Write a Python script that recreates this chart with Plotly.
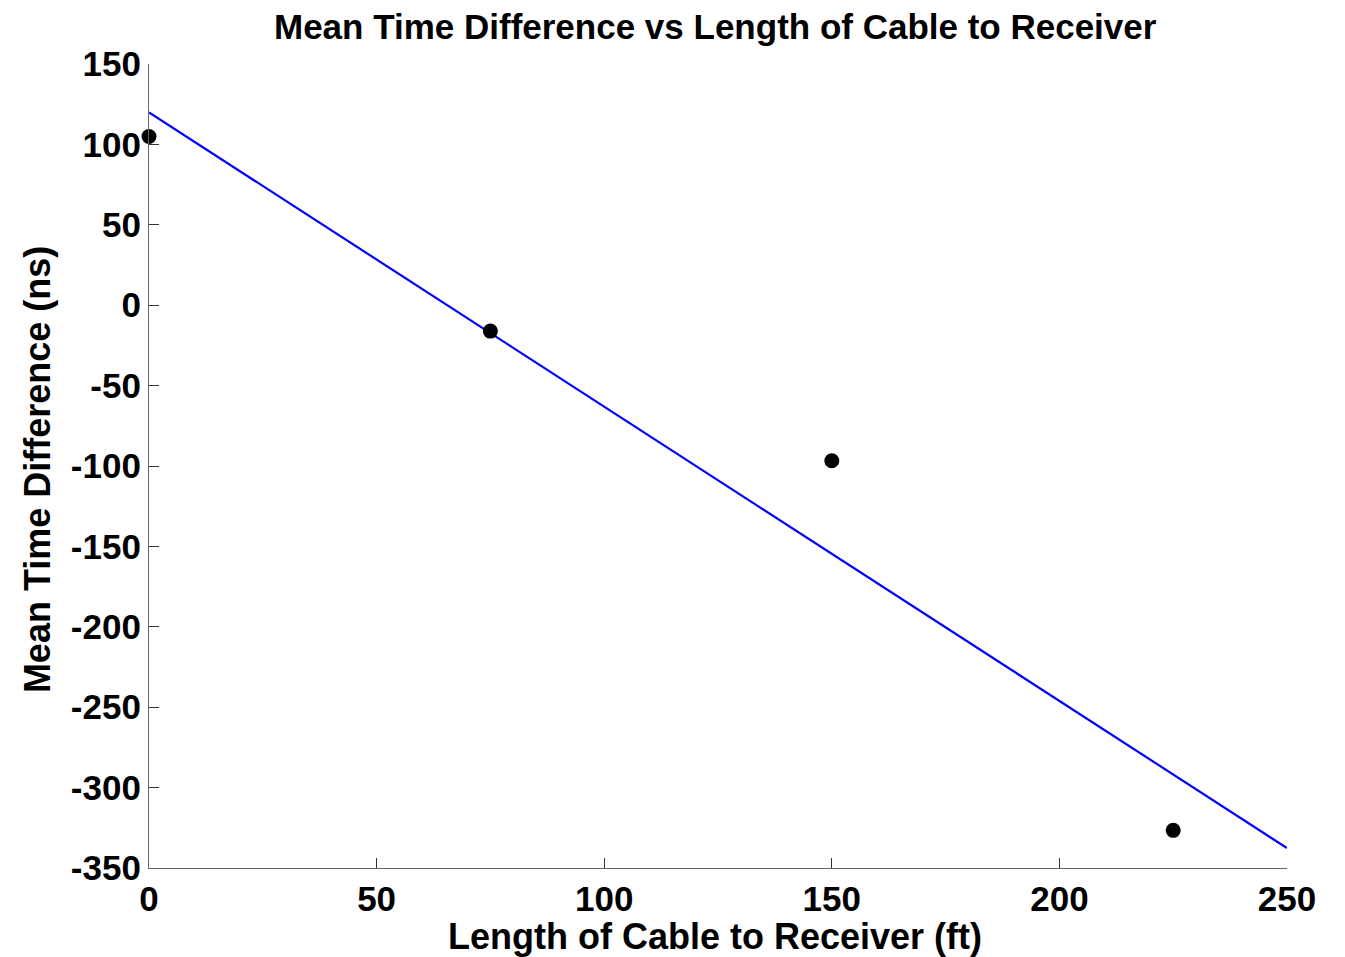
import plotly.graph_objects as go

cable_length_ft = [0, 75, 150, 225]
mean_time_diff_ns = [104.9, -16.1, -96.7, -326.6]

fit_x = [0, 250]
fit_y = [119.9, -337.6]

x_ticks = [0, 50, 100, 150, 200, 250]
y_ticks = [150, 100, 50, 0, -50, -100, -150, -200, -250, -300, -350]

FONT = "Liberation Sans, Arial"

fig = go.Figure()
fig.add_trace(go.Scatter(x=fit_x, y=fit_y, mode="lines",
                         line=dict(color="#0000ff", width=2.2), showlegend=False))
fig.add_trace(go.Scatter(x=cable_length_ft, y=mean_time_diff_ns, mode="markers",
                         marker=dict(color="black", size=15), showlegend=False,
                         cliponaxis=False))

axis_font = dict(family=FONT, size=35, color="black")
fig.update_layout(
    width=1337, height=949,
    paper_bgcolor="white", plot_bgcolor="white",
    margin=dict(l=141, r=58, t=56, b=89),
    xaxis=dict(range=[0, 250], tickvals=x_ticks, ticktext=[f"<b>{v}</b>" for v in x_ticks],
               showgrid=False, zeroline=False, showline=True, linecolor="#666", linewidth=1.2,
               ticks="inside", ticklen=10, tickcolor="#333", tickfont=axis_font),
    yaxis=dict(range=[-350, 150], tickvals=y_ticks, ticktext=[f"<b>{v}</b>" for v in y_ticks],
               showgrid=False, zeroline=False, showline=True, linecolor="#666", linewidth=1.2,
               ticks="inside", ticklen=10, tickcolor="#333", tickfont=axis_font),
    annotations=[
        dict(text="<b>Mean Time Difference vs Length of Cable to Receiver</b>",
             xref="paper", yref="paper", x=0.5, y=1.0, xanchor="center", yanchor="middle",
             xshift=715.5 - 8 - (141 + 1138 / 2), yshift=56 - 18,
             showarrow=False, font=dict(family=FONT, size=35, color="black")),
        dict(text="<b>Length of Cable to Receiver (ft)</b>",
             xref="paper", yref="paper", x=0.497, y=-0.0846, xanchor="center", yanchor="middle",
             showarrow=False, font=dict(family=FONT, size=36, color="black")),
        dict(text="<b>Mean Time Difference (ns)</b>", textangle=-90,
             xref="paper", yref="paper", x=-0.0985, y=0.496, xanchor="center", yanchor="middle",
             showarrow=False, font=dict(family=FONT, size=36, color="black")),
    ],
)

fig.write_html("out.html")
